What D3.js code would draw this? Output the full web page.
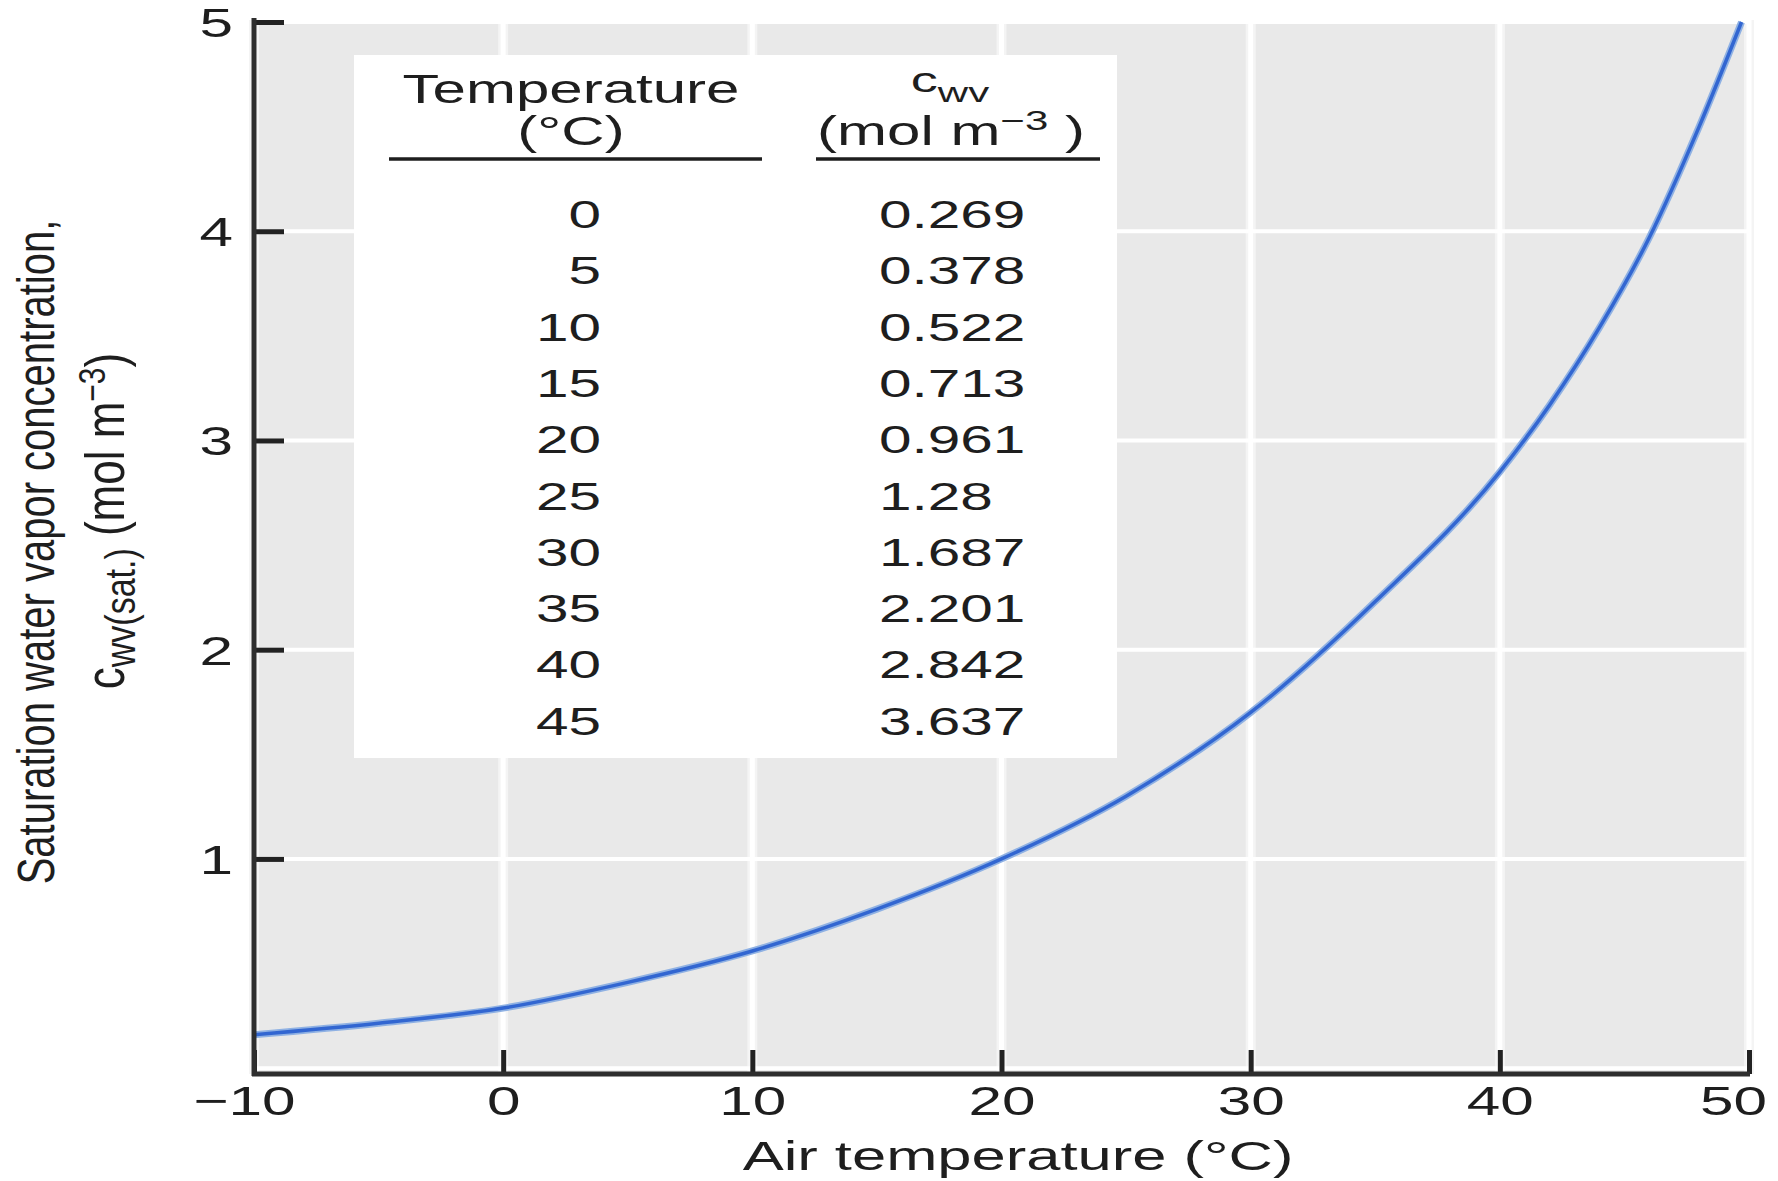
<!DOCTYPE html>
<html>
<head>
<meta charset="utf-8">
<script src="https://cdn.jsdelivr.net/npm/d3@7"></script>
<style>
  body { margin: 0; background: #fff; }
  text { font-family: "Liberation Sans", Arial, Helvetica, sans-serif; fill: #1e1e1e; }
</style>
</head>
<body>
<div class="chart"></div>
<script>
// curve
const curveTemp = [-10, -5, 0, 5, 10, 15, 20, 25, 30, 35, 40, 42, 44, 46, 48, 49.7];
const curveConc = [0.16, 0.215, 0.287, 0.41, 0.56, 0.76, 1.0, 1.3, 1.7, 2.23, 2.85, 3.17, 3.54, 3.97, 4.5, 5.0];

// inset table
const tableTemp = ["0", "5", "10", "15", "20", "25", "30", "35", "40", "45"];
const tableConc = ["0.269", "0.378", "0.522", "0.713", "0.961", "1.28", "1.687", "2.201", "2.842", "3.637"];

const xTicks = [-10, 0, 10, 20, 30, 40, 50];
const yTicks = [1, 2, 3, 4, 5];

const W = 1778, H = 1181;
const panel = { left: 254, right: 1750, top: 20, bottom: 1074 };
const sx = 1.47; // the source figure is stretched sideways

const x = d3.scaleLinear().domain([-10, 50]).range([254, 1749]);
const y = d3.scaleLinear().domain([-0.028, 5]).range([panel.bottom, 22]);

const svg = d3.select(".chart").append("svg")
  .attr("width", W).attr("height", H);

svg.append("rect").attr("width", W).attr("height", H).attr("fill", "#fff");

// panel
svg.append("rect")
  .attr("x", panel.left).attr("y", panel.top)
  .attr("width", panel.right - panel.left).attr("height", panel.bottom - panel.top)
  .attr("fill", "#e9e9e9");

// grid
const grid = svg.append("g");
grid.selectAll(".vsoft").data(xTicks).enter().append("line")
  .attr("x1", d => x(d)).attr("x2", d => x(d))
  .attr("y1", panel.top).attr("y2", panel.bottom)
  .attr("stroke", "#f4f4f4").attr("stroke-width", 10);
grid.selectAll(".v").data(xTicks).enter().append("line")
  .attr("x1", d => x(d)).attr("x2", d => x(d))
  .attr("y1", panel.top).attr("y2", panel.bottom)
  .attr("stroke", "#fff").attr("stroke-width", 5);
grid.selectAll(".h").data([0].concat(yTicks)).enter().append("line")
  .attr("x1", panel.left).attr("x2", panel.right)
  .attr("y1", d => y(d)).attr("y2", d => y(d))
  .attr("stroke", "#fff").attr("stroke-width", 4);

// inset table
const tbl = svg.append("g");
tbl.append("rect").attr("x", 354).attr("y", 55).attr("width", 763).attr("height", 703).attr("fill", "#fff");

function stext(parent, px, py, str, size, anchor, k) {
  return parent.append("text")
    .attr("transform", `translate(${px},${py}) scale(${k},1)`)
    .attr("text-anchor", anchor)
    .attr("font-size", size)
    .text(str);
}

stext(tbl, 571, 103, "Temperature", 40, "middle", 1.5);
stext(tbl, 571, 145, "(°C)", 40, "middle", 1.5);
const cw = stext(tbl, 950, 92, "c", 36, "middle", 1.5);
cw.append("tspan").attr("font-size", 28).attr("dy", 10).text("wv");
const unit = stext(tbl, 951, 145, "(mol m", 40, "middle", 1.5);
unit.append("tspan").attr("font-size", 28).attr("dy", -15).text("−3");
unit.append("tspan").attr("dy", 15).text(" )");

tbl.append("line").attr("x1", 389).attr("x2", 762).attr("y1", 159).attr("y2", 159)
  .attr("stroke", "#1e1e1e").attr("stroke-width", 3.5);
tbl.append("line").attr("x1", 816).attr("x2", 1100).attr("y1", 159).attr("y2", 159)
  .attr("stroke", "#1e1e1e").attr("stroke-width", 3.5);

tableTemp.forEach((t, i) => {
  const by = 228 + i * 56.3;
  stext(tbl, 601, by, t, 39, "end", 1.5);
  stext(tbl, 879, by, tableConc[i], 39, "start", 1.5);
});

// curve
const pts = curveTemp.map((t, i) => [t, curveConc[i]]);
const line = d3.line().x(d => x(d[0])).y(d => y(d[1])).curve(d3.curveMonotoneX);
svg.append("path").datum(pts).attr("d", line)
  .attr("fill", "none").attr("stroke", "#8fb1e3").attr("stroke-width", 7);
svg.append("path").datum(pts).attr("d", line)
  .attr("fill", "none").attr("stroke", "#3266d1").attr("stroke-width", 3.5);

// axes
const xAxis = svg.append("g")
  .attr("transform", `translate(0,${panel.bottom})`)
  .call(d3.axisBottom(x).tickValues(xTicks).tickSize(-24)
    .tickFormat(d => d < 0 ? "−" + Math.abs(d) : d));
const yAxis = svg.append("g")
  .attr("transform", `translate(${panel.left},0)`)
  .call(d3.axisLeft(y).tickValues(yTicks).tickSize(-30).tickFormat(d3.format("d")));

[xAxis, yAxis].forEach(g => {
  g.select(".domain").remove();
  g.selectAll(".tick line").attr("stroke", "#222").attr("stroke-width", 5);
  g.selectAll(".tick text").attr("x", null).attr("y", null).attr("dy", null)
    .attr("font-size", 41).attr("fill", "#1e1e1e");
});
// outer labels sit a little inward, as in the source
xAxis.selectAll(".tick text").attr("text-anchor", "middle")
  .attr("transform", d => {
    const dx = d === 50 ? -16 : d === -10 ? -10 : 0;
    return `translate(${dx},41) scale(${sx},1)`;
  });
yAxis.selectAll(".tick text").attr("text-anchor", "end")
  .attr("transform", `translate(-21,14.5) scale(${sx},1)`);

svg.append("line").attr("x1", panel.left).attr("x2", panel.left)
  .attr("y1", panel.top - 2).attr("y2", panel.bottom + 2)
  .attr("stroke", "#2e2e2e").attr("stroke-width", 5);
svg.append("line").attr("x1", panel.left - 2).attr("x2", panel.right)
  .attr("y1", panel.bottom).attr("y2", panel.bottom)
  .attr("stroke", "#2e2e2e").attr("stroke-width", 5);

// axis titles
stext(svg, 1018, 1170, "Air temperature (°C)", 41, "middle", 1.5);

svg.append("text")
  .attr("transform", "translate(54,552) scale(1.3,1) rotate(-90)")
  .attr("text-anchor", "middle").attr("font-size", 40)
  .text("Saturation water vapor concentration,");
const yt2 = svg.append("text")
  .attr("transform", "translate(124,521) scale(1.25,1) rotate(-90)")
  .attr("text-anchor", "middle").attr("font-size", 44)
  .text("c");
yt2.append("tspan").attr("font-size", 34).attr("dy", 9).text("wv(sat.)");
yt2.append("tspan").attr("dy", -9).text(" (mol m");
yt2.append("tspan").attr("font-size", 30).attr("dy", -15).text("−3");
yt2.append("tspan").attr("dy", 15).text(")");
</script>
</body>
</html>
